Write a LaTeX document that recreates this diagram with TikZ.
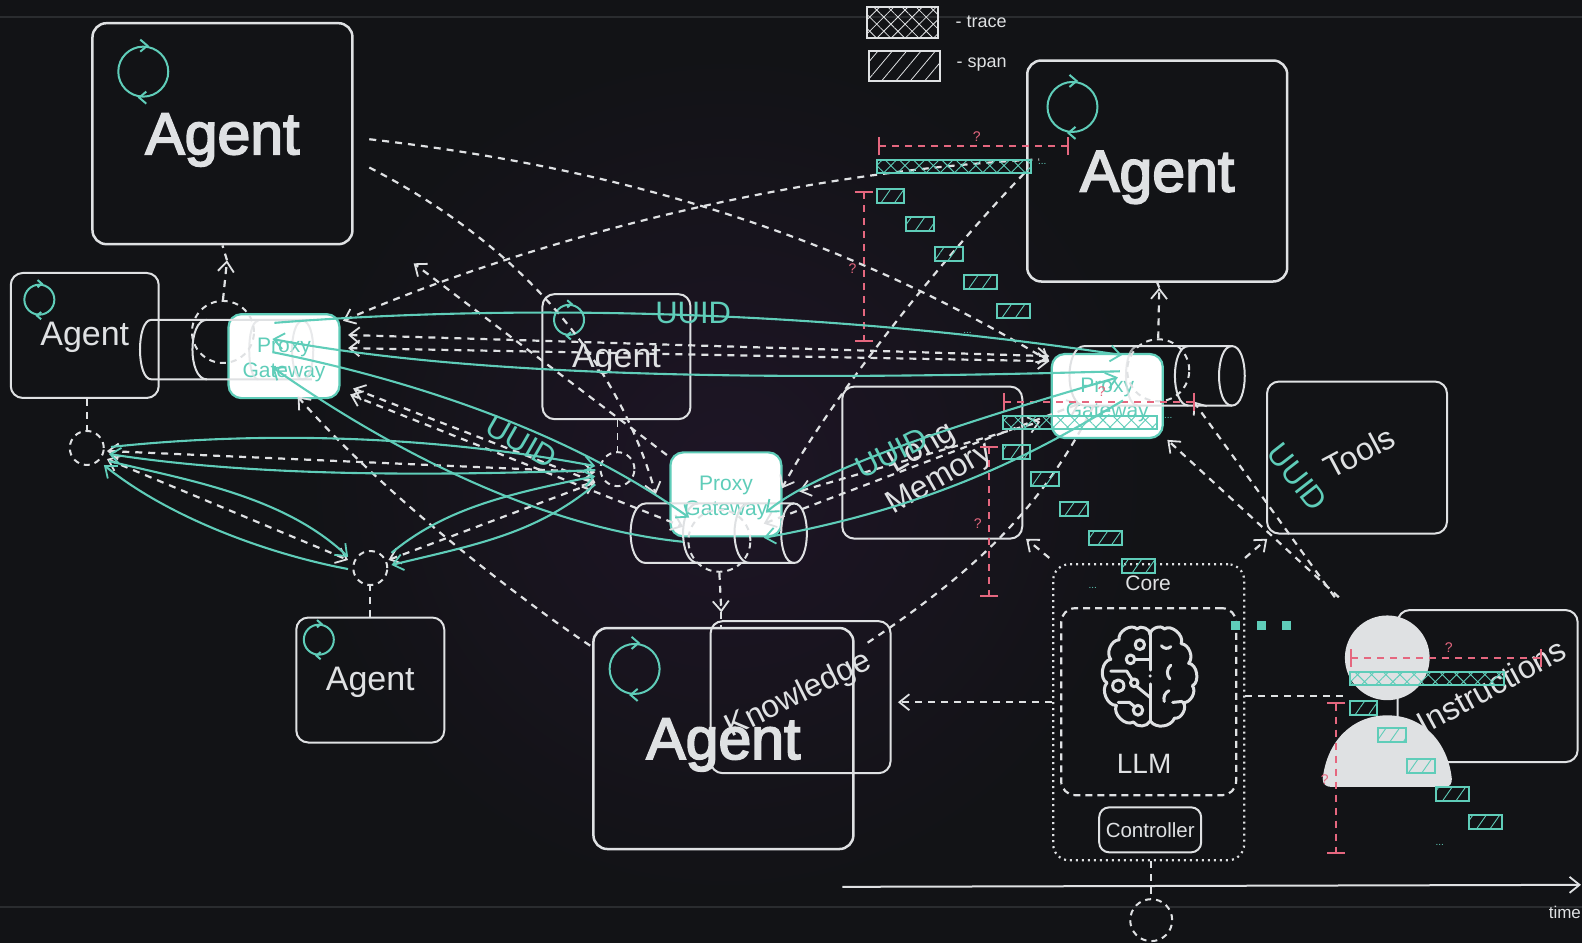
\documentclass[tikz,border=0pt]{standalone}
\usepackage{fontspec}
\setmainfont{Liberation Sans}
\newfontfamily\boldish[FakeBold=3]{Liberation Sans}
\usetikzlibrary{arrows.meta,calc,patterns.meta,shapes.geometric}
\definecolor{bgc}{HTML}{121316}
\definecolor{glow}{HTML}{1E1526}
\definecolor{lite}{HTML}{DFE1E3}
\definecolor{tealc}{HTML}{5FCDB9}
\definecolor{redc}{HTML}{E5677F}
\definecolor{rulec}{HTML}{2A2C2F}
\newcommand{\fsz}[1]{\fontsize{#1}{#1}\selectfont}
\newcommand{\pgtext}{\rule{0pt}{22pt}Proxy\\[4.5pt]Gateway}
\tikzset{
  >={Straight Barb[length=10pt,width=16pt,line width=1.8pt]},
  boxbase/.style={draw=lite,line width=2pt,rounded corners=12pt,inner sep=0pt,text=lite},
  agentbig/.style={boxbase,line width=2.5pt,rounded corners=14pt,minimum width=260pt,minimum height=221pt,font=\boldish\fsz{59},text height=41pt,text depth=0pt},
  agentsmall/.style={boxbase,minimum width=148pt,minimum height=125pt,font=\fsz{34},text height=21pt,text depth=0pt},
  tilebox/.style={boxbase,minimum width=180pt,minimum height=152pt},
  tilelabel/.style={text=lite,font=\fsz{32},align=center,inner sep=0pt},
  uuidlabel/.style={text=tealc,font=\fsz{31},inner sep=0pt},
  gateway/.style={draw=tealc,fill=white,line width=2.2pt,rounded corners=13pt,minimum width=111pt,minimum height=84pt,
    text=tealc,font=\fsz{21},align=center,inner sep=0pt},
  ring/.style={draw=tealc,circle,inner sep=0pt,line width=2pt},
  chevron/.style={draw=tealc,line width=2pt},
  junction/.style={draw=lite,circle,dashed,dash pattern=on 6pt off 5pt,line width=2pt,inner sep=0pt},
  gline/.style={draw=lite,line width=2pt},
  dline/.style={draw=lite,line width=2.2pt,dash pattern=on 7pt off 6pt},
  tline/.style={draw=tealc,line width=2.1pt},
  rline/.style={draw=redc,line width=2pt,dash pattern=on 7pt off 6pt,{Bar[width=18pt,line width=2pt]}-{Bar[width=18pt,line width=2pt]}},
  qmark/.style={text=redc,font=\fsz{14},inner sep=0pt},
  dots/.style={text=tealc,font=\fsz{10},inner sep=0pt},
  tracebar/.style={draw=tealc,line width=2pt,anchor=north west,inner sep=0pt,minimum width=154pt,minimum height=13pt,
    pattern={Hatch[angle=45,distance=10pt,line width=.9pt]},pattern color=tealc},
  spanbar/.style={draw=tealc,line width=2pt,anchor=north west,inner sep=0pt,minimum height=14pt,
    pattern={Lines[angle=55,distance=11pt,line width=.9pt]},pattern color=tealc},
  legendtrace/.style={draw=lite,line width=2pt,inner sep=0pt,minimum width=71pt,minimum height=31pt,
    pattern={Hatch[angle=45,distance=10pt,line width=.8pt]},pattern color=lite},
  legendspan/.style={draw=lite,line width=2pt,inner sep=0pt,minimum width=71pt,minimum height=30pt,
    pattern={Lines[angle=50,distance=11pt,line width=.8pt]},pattern color=lite},
  legendtext/.style={text=lite,font=\fsz{18},anchor=west,inner sep=0pt},
  squaremark/.style={fill=tealc,minimum size=9pt,inner sep=0pt},
}
\newcommand{\loopmark}[3]{%
  \node[ring,minimum size=#3pt] (#1) at (#2) {};
  \draw[chevron] ($(#1.north)+(-.06*#3,-.12*#3)$) -- ($(#1.north)+(.08*#3,0)$) -- ($(#1.north)+(-.06*#3,.12*#3)$);
  \draw[chevron] ($(#1.south)+(.06*#3,-.12*#3)$) -- ($(#1.south)+(-.08*#3,0)$) -- ($(#1.south)+(.06*#3,.12*#3)$);
}
\newcommand{\tracegroup}[3]{%
  \begin{scope}[shift={(#2)}]
    \node[tracebar] (#1t) at (0,0) {};
    \node[spanbar,minimum width=27pt] (#1a) at (0,29) {};
    \node[spanbar,minimum width=28pt] (#1b) at (28,56) {};
    \node[spanbar,minimum width=28pt] (#1c) at (57,86) {};
    \node[spanbar,minimum width=33pt] (#1d) at (85,114) {};
    \node[spanbar,minimum width=33pt] (#1e) at (118,142) {};
    \coordinate (#1hl) at (1,-13); \coordinate (#1hr) at (#3,-13);
    \coordinate (#1vt) at (-13,31); \coordinate (#1vb) at (-13,181);
    \draw[rline] (#1hl) -- (#1hr);
    \draw[rline] (#1vt) -- (#1vb);
    \node[qmark] (#1qh) at (99,-23) {?};
    \node[qmark] (#1qv) at (-24,108) {?};
    \node[dots] (#1dots) at (90,172) {...};
  \end{scope}
}
\begin{document}
\begin{tikzpicture}[x=1.009pt,y=-1.009pt]
\useasboundingbox (0,0) rectangle (1568,935);
\fill[bgc] (0,0) rectangle (1568,935);
\begin{scope}
  \clip (0,0) rectangle (1568,935);
  \shade[inner color=glow,outer color=bgc] (720,470) circle[radius=420];
\end{scope}
\coordinate (ruleAl) at (0,17); \coordinate (ruleAr) at (1568,17);
\coordinate (ruleBl) at (0,899); \coordinate (ruleBr) at (1568,899);
\draw[rulec,line width=1.5pt] (ruleAl) -- (ruleAr);
\draw[rulec,line width=1.5pt] (ruleBl) -- (ruleBr);

% legend
\node[legendtrace] (legT) at (894.5,22.5) {};
\node[legendspan] (legS) at (896.5,65) {};
\node[legendtext] (legTt) at (947,22) {- trace};
\node[legendtext] (legSt) at (948,64) {- span};

% agents
\node[agentbig] (agTL) at (220.5,132.5) {Agent};
\node[agentbig] (agTR) at (1147,169.5) {Agent};
\node[agentbig] (agB) at (717,732) {Agent};
\node[agentsmall] (agL) at (84,332.5) {Agent};
\node[agentsmall] (agC) at (611,353.5) {Agent};
\node[agentsmall] (agS) at (367,674) {Agent};
\loopmark{icTL}{142,71}{50}
\loopmark{icTR}{1063,106}{50}
\loopmark{icB}{629,663}{50}
\loopmark{icL}{39,297}{30}
\loopmark{icC}{564,317}{30}
\loopmark{icS}{316,634}{30}

% tiles
\node[tilebox] (tools) at (1345,453.5) {};
\node[tilebox] (memory) at (924,458.5) {};
\node[tilebox] (know) at (793.5,691) {};
\node[tilebox] (instr) at (1474.5,680) {};
\node[tilelabel,rotate=28] (toolsT) at (1347,448) {Tools};
\node[tilelabel,rotate=30] (memT) at (923,460) {Long\\[3pt]Memory};
\node[tilelabel,rotate=26.5] (knowT) at (792,689) {Knowledge};

% person
\coordinate (head) at (1375,652);
\fill[lite] (head) circle[radius=42];
\fill[lite] (1320,780) -- (1432,780) .. controls (1437,780) and (1439,777) .. (1439,772)
  .. controls (1435,735) and (1410,709) .. (1375,709) .. controls (1340,709) and (1315,735) .. (1311,772)
  .. controls (1311,777) and (1314,780) .. (1320,780) -- cycle;
\node[tilelabel,rotate=28.5] (instrT) at (1478,680) {Instructions};

% gateways
\node[gateway] (pgA) at (281.5,353) {\pgtext};
\node[gateway] (pgB) at (1097.5,392.5) {\pgtext};
\node[gateway] (pgC) at (719.5,490) {\pgtext};

% cylinders
\draw[gline] (309,317) -- (150,317) .. controls (135,317) and (135,376) .. (150,376) -- (309,376);
\draw[gline] (205,317) .. controls (186,317) and (186,376) .. (205,376);
\draw[gline,opacity=.7] (300,318) .. controls (314,318) and (314,376) .. (300,376) .. controls (286,376) and (286,318) .. (300,318);
\draw[gline,opacity=.7] (256,318) .. controls (244,318) and (244,376) .. (256,376);
\draw[gline] (1221,343) -- (1075,343) .. controls (1055,343) and (1055,402) .. (1075,402) -- (1221,402);
\draw[gline] (1221,343) .. controls (1238,343) and (1238,402) .. (1221,402) .. controls (1204,402) and (1204,343) .. (1221,343);
\draw[gline] (1178,343) .. controls (1160,343) and (1160,402) .. (1178,402);
\draw[gline,opacity=.7] (1128,343) .. controls (1112,343) and (1112,402) .. (1128,402);
\draw[gline] (787,499) -- (640,499) .. controls (620,499) and (620,558) .. (640,558) -- (787,558);
\draw[gline] (787,499) .. controls (804,499) and (804,558) .. (787,558) .. controls (770,558) and (770,499) .. (787,499);
\draw[gline] (692,499) .. controls (672,499) and (672,558) .. (692,558);
\draw[gline] (743,499) .. controls (723,499) and (723,558) .. (743,558);

% junctions
\node[junction,minimum size=62pt] (jA) at (221,329) {};
\node[junction,minimum size=62pt] (jB) at (1148,367) {};
\node[junction,minimum size=62pt] (jC) at (713,536) {};
\node[junction,minimum size=34pt] (jL) at (86,444) {};
\node[junction,minimum size=34pt] (jS) at (367,563) {};
\node[junction,minimum size=34pt] (jM) at (612,465) {};
\node[junction,minimum size=42pt] (jT) at (1141,912) {};

% core
\node[draw=lite,line width=2.2pt,dash pattern=on 2pt off 4pt,rounded corners=16pt,minimum width=191pt,minimum height=296pt,inner sep=0pt] (core) at (1138.5,706) {};
\node[draw=lite,line width=2.2pt,dash pattern=on 7pt off 5pt,rounded corners=14pt,minimum width=175pt,minimum height=187pt,inner sep=0pt] (llm) at (1138.5,695.5) {};
\node[text=lite,font=\fsz{21},inner sep=0pt] (coreT) at (1138,578) {Core};
\node[text=lite,font=\fsz{28},inner sep=0pt] (llmT) at (1134,757) {LLM};
\node[boxbase,minimum width=102pt,minimum height=45pt,rounded corners=10pt,font=\fsz{20.5}] (ctrl) at (1140,822.5) {Controller};
\node[squaremark] (sq1) at (1225,620) {};
\node[squaremark] (sq2) at (1250,620) {};
\node[squaremark] (sq3) at (1275,620) {};

% brain
\begin{scope}[shift={(1140,670)},xscale=.93,yscale=.97,draw=lite,line width=3pt,line cap=round,line join=round]
  \draw (0,-42) to[bend left=75] (15,-48) to[bend left=75] (33,-33) to[bend left=65] (41,-13) to[bend left=75] (45,10)
     to[bend left=70] (35,27) to[bend left=75] (26,43) to[bend left=60] (0,46);
  \draw (0,-42) to[bend right=75] (-14,-48) to[bend right=75] (-33,-37) to[bend right=65] (-42,-17) to[bend right=75] (-46,7)
     to[bend right=70] (-36,30) to[bend right=75] (-18,47) to[bend right=60] (0,46);
  \draw (0,-42) -- (0,-6);
  \draw (0,8) -- (0,46);
  \fill[lite] (0,0) circle[radius=1.8];
  \draw (-11,-32) circle[radius=5];
  \draw (-21,-17) circle[radius=4.5];
  \draw (-16,-17) -- (0,-17);
  \draw (-34,10) circle[radius=6];
  \draw (-42,-5) -- (-25,-5) -- (-19,4);
  \draw (-17,7) circle[radius=4];
  \draw (-14,11) -- (0,22);
  \draw (-13,35) circle[radius=5];
  \draw (-34,27) -- (-22,27) -- (-17,31);
  \draw (12,-31) to[bend right=50] (22,-30);
  \draw (22,-11) to[bend right=50] (21,3);
  \draw (15,26) to[bend left=40] (20,15);
  \draw (24,27) -- (34,26);
\end{scope}

% white dashed connectors
\coordinate (d1a) at (366,138); \coordinate (d1b) at (1040,358);
\coordinate (d2a) at (366,166); \coordinate (d2b) at (650,490);
\coordinate (d3a) at (661,451); \coordinate (d3b) at (410,261);
\coordinate (d4a) at (340,318); \coordinate (d4b) at (1030,158);
\coordinate (d5a) at (1015,172); \coordinate (d5b) at (775,484);
\coordinate (d6a) at (860,637); \coordinate (d6b) at (1085,400);
\coordinate (d7a) at (585,640); \coordinate (d7b) at (295,393);
\coordinate (d8a) at (345,332); \coordinate (d8b) at (1040,353);
\coordinate (d9a) at (345,345); \coordinate (d9b) at (1040,358);
\coordinate (d10a) at (350,385); \coordinate (d10b) at (590,478);
\coordinate (d11a) at (347,391); \coordinate (d11b) at (677,522);
\coordinate (d12a) at (106,447); \coordinate (d12b) at (590,468);
\coordinate (d13a) at (106,455); \coordinate (d13b) at (345,555);
\coordinate (d14a) at (385,555); \coordinate (d14b) at (590,478);
\coordinate (d15a) at (792,487); \coordinate (d15b) at (1031,418);
\coordinate (d16a) at (757,519); \coordinate (d16b) at (1070,400);
\coordinate (d17a) at (1040,553); \coordinate (d17b) at (1017,534);
\coordinate (d18a) at (1234,553); \coordinate (d18b) at (1256,534);
\coordinate (d19b) at (890,696);
\coordinate (d20a) at (1327,592); \coordinate (d20b) at (1157,436);
\coordinate (d21a) at (1323,592); \coordinate (d21b) at (1183,398);
\coordinate (d22a) at (1234,690); \coordinate (d22b) at (1335,690);
\coordinate (upA) at (225,258); \coordinate (upB) at (1149,285); \coordinate (dnC) at (715,607);
\draw[dline,->] (d1a) .. controls (600,165) and (820,225) .. (d1b);
\draw[dline,->] (d2a) .. controls (510,240) and (610,350) .. (d2b);
\draw[dline,->] (d3a) -- (d3b);
\draw[dline,<-] (d4a) .. controls (520,240) and (780,170) .. (d4b);
\draw[dline,->] (d5a) .. controls (930,260) and (820,400) .. (d5b);
\draw[dline] (d6a) .. controls (960,570) and (1030,510) .. (d6b);
\draw[dline,->] (d7a) .. controls (510,590) and (380,490) .. (d7b);
\draw[dline,<->] (d8a) -- (d8b);
\draw[dline,<->] (d9a) -- (d9b);
\draw[dline,<->] (d10a) -- (d10b);
\draw[dline,<->] (d11a) -- (d11b);
\draw[dline,<->] (d12a) -- (d12b);
\draw[dline,<->] (d13a) -- (d13b);
\draw[dline,<->] (d14a) -- (d14b);
\draw[dline,<->] (d15a) -- (d15b);
\draw[dline,<->] (d16a) -- (d16b);
\draw[dline,->] (d17a) -- (d17b);
\draw[dline,->] (d18a) -- (d18b);
\draw[dline,->] (core.west |- d19b) -- (d19b);
\draw[dline,->] (d20a) -- (d20b);
\draw[dline,->] (d21a) -- (d21b);
\draw[dline] (d22a) -- (d22b);
\draw[dline,->] (jA.north) -- (upA);
\draw[dline] (upA) -- (agTL.south);
\draw[dline,->] (jB.north) -- (upB);
\draw[dline] (upB) -- (agTR.south);
\draw[dline,->] (jC.south) -- (dnC);
\draw[dline] (dnC) -- (agB.north -| dnC);
\draw[dline,line width=1.8pt] (agL.south -| jL) -- (jL.north);
\draw[dline,line width=1.8pt] (agS.north -| jS) -- (jS.south);
\draw[dline,line width=1.8pt] (agC.south -| jM) -- (jM.north);
\draw[dline,line width=1.8pt] (core.south -| jT) -- (jT.north);

% time axis
\coordinate (tA) at (835,879); \coordinate (tB) at (1567,877);
\draw[gline,->] (tA) -- (tB);
\node[text=lite,font=\fsz{17},inner sep=0pt] (timeT) at (1551,904) {time};

% traces
\tracegroup{gx}{869,158}{191}
\tracegroup{gy}{993,411}{191}
\tracegroup{gz}{1337,665}{191}
\node[dots] (gxside) at (1033,163) {...};
\node[dots] (gyside) at (1158,414) {...};

% teal connectors
\coordinate (t1a) at (272,320); \coordinate (t1b) at (1112,352);
\coordinate (t2a) at (1110,368); \coordinate (t2b) at (270,336);
\coordinate (t3a) at (270,349); \coordinate (t3b) at (683,513);
\coordinate (t4a) at (677,537); \coordinate (t4b) at (270,364);
\coordinate (t5a) at (110,443); \coordinate (t5b) at (590,462);
\coordinate (t6a) at (590,466); \coordinate (t6b) at (108,450);
\coordinate (t7a) at (108,457); \coordinate (t7b) at (345,552);
\coordinate (t8a) at (345,564); \coordinate (t8b) at (103,461);
\coordinate (t9a) at (388,548); \coordinate (t9b) at (590,472);
\coordinate (t10a) at (590,480); \coordinate (t10b) at (388,560);
\coordinate (t11a) at (759,508); \coordinate (t11b) at (1108,374);
\coordinate (t12a) at (1113,397); \coordinate (t12b) at (757,533);
\draw[tline,->] (t1a) .. controls (500,302) and (800,305) .. (t1b);
\draw[tline,->] (t2a) .. controls (850,375) and (500,380) .. (t2b);
\draw[tline,->] (t3a) .. controls (400,375) and (560,425) .. (t3b);
\draw[tline,->] (t4a) .. controls (510,520) and (350,420) .. (t4b);
\draw[tline,->] (t5a) .. controls (250,428) and (420,430) .. (t5b);
\draw[tline,->] (t6a) .. controls (420,472) and (250,472) .. (t6b);
\draw[tline,->] (t7a) .. controls (180,475) and (280,490) .. (t7b);
\draw[tline,->] (t8a) .. controls (270,550) and (170,515) .. (t8b);
\draw[tline,->] (t9a) .. controls (440,505) and (500,490) .. (t9b);
\draw[tline,->] (t10a) .. controls (530,530) and (470,540) .. (t10b);
\draw[tline,<->] (t11a) .. controls (810,465) and (950,420) .. (t11b);
\draw[tline,->] (t12a) .. controls (1040,440) and (940,500) .. (t12b);
\node[uuidlabel] (u1) at (687,310) {UUID};
\node[uuidlabel,rotate=-30] (u2) at (517,438) {UUID};
\node[uuidlabel,rotate=27] (u3) at (884,449) {UUID};
\node[uuidlabel,rotate=-52] (u4) at (1286,473) {UUID};
\end{tikzpicture}
\end{document}
